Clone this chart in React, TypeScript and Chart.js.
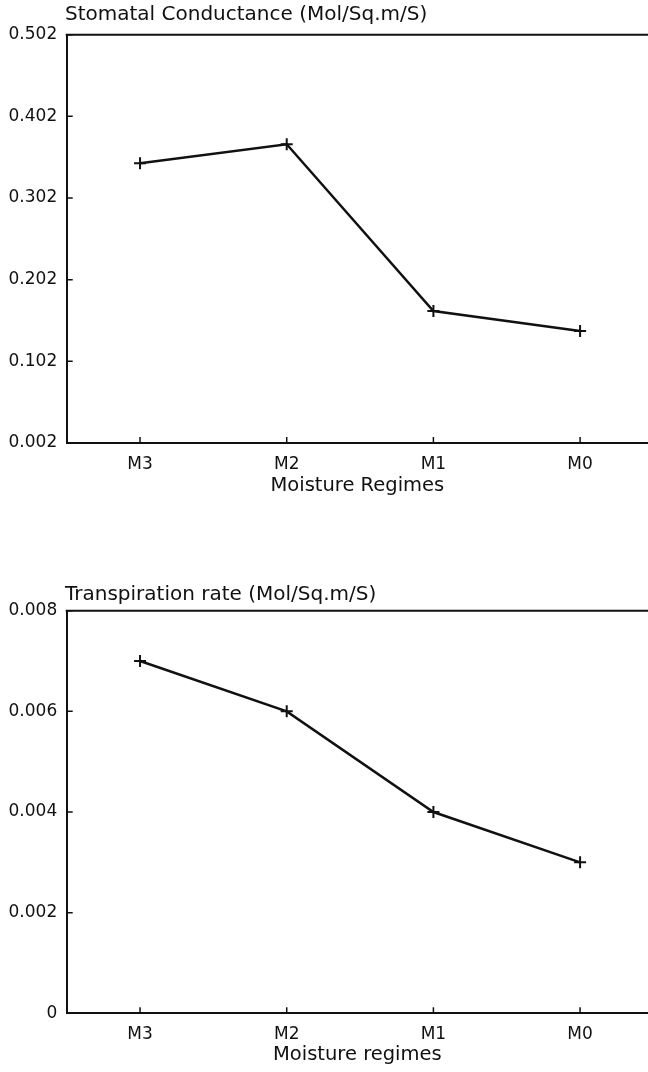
import React, { useEffect, useRef } from "react";
import { Chart, registerables } from "chart.js";

Chart.register(...registerables);

// ---- data ----
const categories = ["M3", "M2", "M1", "M0"];
const conductance = [0.3445, 0.3678, 0.1636, 0.1392];
const transpiration = [0.007, 0.006, 0.004, 0.003];
const conductanceTicks = [0.002, 0.102, 0.202, 0.302, 0.402, 0.502];
const transpirationTicks = [0, 0.002, 0.004, 0.006, 0.008];

const FAMILY = "'DejaVu Sans', 'Liberation Sans', sans-serif";
const INK = "#111";

const framePlugin = {
  id: "frame",
  afterDraw(chart: any, _args: any, opts: any) {
    const { ctx, chartArea } = chart;
    const xs = chart.scales.x;
    const ys = chart.scales.y;
    ctx.save();
    ctx.strokeStyle = INK;
    ctx.lineWidth = 2;
    ctx.beginPath();
    ctx.moveTo(chartArea.left - 1, chartArea.top);
    ctx.lineTo(chartArea.right, chartArea.top);
    ctx.stroke();
    ctx.lineWidth = 1.5;
    ctx.beginPath();
    xs.ticks.forEach((t: any) => {
      const px = xs.getPixelForValue(t.value);
      ctx.moveTo(px, chartArea.bottom);
      ctx.lineTo(px, chartArea.bottom - 6);
    });
    ys.ticks.forEach((t: any) => {
      const py = ys.getPixelForValue(t.value);
      ctx.moveTo(chartArea.left, py);
      ctx.lineTo(chartArea.left + 6, py);
    });
    ctx.stroke();
    ctx.font = `20px ${FAMILY}`;
    ctx.fillStyle = INK;
    ctx.textAlign = "left";
    ctx.textBaseline = "alphabetic";
    ctx.fillText(opts.text, opts.x, opts.y);
    ctx.restore();
  },
};

type Props = {
  values: number[];
  yTicks: number[];
  title: string;
  xTitle: string;
  height: number;
  areaTop: number;
  areaBottom: number;
  titleBaseline: number;
  xTitleCenter: number;
  fmt: (v: number) => string;
};

function LineChart(p: Props) {
  const ref = useRef<HTMLCanvasElement | null>(null);
  useEffect(() => {
    if (!ref.current) return;
    const tickFont = { family: FAMILY, size: 17 };
    const titleFont = { family: FAMILY, size: 19.5, lineHeight: 1.2 };
    const yMin = p.yTicks[0];
    const yMax = p.yTicks[p.yTicks.length - 1];
    const chart = new Chart(ref.current, {
      type: "line",
      data: {
        datasets: [
          {
            data: p.values.map((v, i) => ({ x: i, y: v })),
            borderColor: INK,
            borderWidth: 2.5,
            pointStyle: "cross",
            pointRadius: 6,
            pointHoverRadius: 6,
            pointBorderWidth: 2,
            pointBorderColor: INK,
            pointBackgroundColor: INK,
            tension: 0,
            fill: false,
            clip: false as any,
          },
        ],
      },
      options: {
        animation: false,
        responsive: false,
        devicePixelRatio: 1,
        layout: {
          autoPadding: false,
          padding: { top: p.areaTop, left: 0, right: 0, bottom: 0 },
        },
        plugins: {
          legend: { display: false },
          tooltip: { enabled: false },
          title: { display: false },
          frame: { text: p.title, x: 65, y: p.titleBaseline },
        } as any,
        scales: {
          x: {
            type: "linear",
            min: -0.5,
            max: 3.463,
            afterBuildTicks: (s: any) => {
              s.ticks = categories.map((_, i) => ({ value: i }));
            },
            afterFit: (s: any) => {
              s.height = p.height - p.areaBottom;
              s.paddingLeft = 0;
              s.paddingRight = 0;
            },
            grid: { display: false, drawTicks: false },
            border: { display: true, color: INK, width: 2 },
            ticks: {
              callback: (v: any) => categories[v as number] ?? "",
              font: tickFont,
              color: INK,
              padding: 11,
              maxRotation: 0,
              autoSkip: false,
            },
            title: {
              display: true,
              text: p.xTitle,
              font: titleFont,
              color: INK,
              padding: { top: 0, bottom: p.height - p.xTitleCenter - 11.7 },
            },
          },
          y: {
            type: "linear",
            min: yMin,
            max: yMax,
            afterBuildTicks: (s: any) => {
              s.ticks = p.yTicks.map((v) => ({ value: v }));
            },
            afterFit: (s: any) => {
              s.width = 66.7;
              s.paddingTop = 0;
              s.paddingBottom = 0;
            },
            grid: { display: false, drawTicks: false },
            border: { display: true, color: INK, width: 2 },
            ticks: {
              callback: (v: any) => p.fmt(v as number),
              font: tickFont,
              color: INK,
              padding: 9.5,
            },
          },
        },
      } as any,
      plugins: [framePlugin as any],
    });
    return () => chart.destroy();
  }, []);
  return (
    <canvas
      ref={ref}
      width={648}
      height={p.height}
      style={{ display: "block", width: 648, height: p.height }}
    />
  );
}

export default function App() {
  useEffect(() => {
    document.body.style.margin = "0";
    document.body.style.background = "#fff";
  }, []);
  return (
    <div style={{ width: 648, height: 1072, background: "#fff", overflow: "hidden" }}>
      <LineChart
        values={conductance}
        yTicks={conductanceTicks}
        title="Stomatal Conductance (Mol/Sq.m/S)"
        xTitle="Moisture Regimes"
        height={540}
        areaTop={34.7}
        areaBottom={443}
        titleBaseline={20}
        xTitleCenter={486}
        fmt={(v) => v.toFixed(3)}
      />
      <LineChart
        values={transpiration}
        yTicks={transpirationTicks}
        title="Transpiration rate (Mol/Sq.m/S)"
        xTitle="Moisture regimes"
        height={532}
        areaTop={70.7}
        areaBottom={473.3}
        titleBaseline={60}
        xTitleCenter={515}
        fmt={(v) => (v === 0 ? "0" : v.toFixed(3))}
      />
    </div>
  );
}
